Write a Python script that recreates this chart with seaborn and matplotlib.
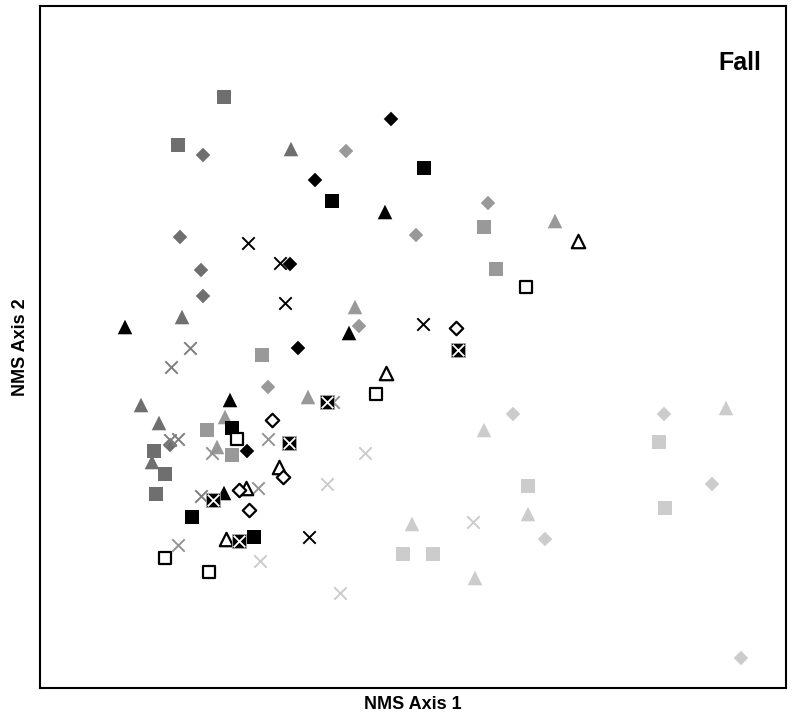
import matplotlib
matplotlib.use("Agg")
import matplotlib.pyplot as plt
import seaborn as sns
import pandas as pd

# NMS ordination scores (axis 1, axis 2) for each group of sites
black_diamond_x = [3.51, 2.75, 2.50, 2.58, 2.07]
black_diamond_y = [5.69, 5.08, 4.24, 3.40, 2.37]
black_square_x = [3.84, 2.92, 1.92, 1.52, 2.14]
black_square_y = [5.20, 4.87, 2.60, 1.71, 1.51]
black_triangle_x = [3.45, 0.85, 3.09, 1.90, 1.84]
black_triangle_y = [4.76, 3.61, 3.55, 2.88, 1.95]
black_cross_x = [2.08, 2.40, 2.45, 3.83, 2.69]
black_cross_y = [4.45, 4.25, 3.85, 3.64, 1.51]

open_triangle_x = [5.38, 3.46, 2.39, 2.06, 1.86]
open_triangle_y = [4.47, 3.15, 2.21, 2.00, 1.49]
open_square_x = [4.86, 3.36, 1.97, 1.25, 1.69]
open_square_y = [4.01, 2.94, 2.49, 1.30, 1.16]
open_diamond_x = [4.16, 2.32, 2.43, 1.99, 2.09]
open_diamond_y = [3.60, 2.68, 2.11, 1.98, 1.78]
boxed_cross_x = [4.18, 2.87, 2.49, 1.73, 1.99]
boxed_cross_y = [3.38, 2.86, 2.45, 1.88, 1.47]

dark_square_x = [1.84, 1.38, 1.14, 1.25, 1.16]
dark_square_y = [5.91, 5.43, 2.37, 2.14, 1.94]
dark_diamond_x = [1.63, 1.40, 1.61, 1.63, 1.30]
dark_diamond_y = [5.33, 4.51, 4.18, 3.92, 2.43]
dark_triangle_x = [2.51, 1.42, 1.01, 1.19, 1.12]
dark_triangle_y = [5.39, 3.71, 2.83, 2.65, 2.26]
dark_cross_x = [1.50, 1.31, 1.30, 1.38, 1.61]
dark_cross_y = [3.40, 3.21, 2.48, 2.49, 1.92]

mid_square_x = [2.22, 1.67, 1.92, 4.44, 4.56]
mid_square_y = [3.33, 2.58, 2.33, 4.61, 4.19]
mid_diamond_x = [3.06, 4.48, 3.76, 3.19, 2.28]
mid_diamond_y = [5.37, 4.85, 4.53, 3.62, 3.01]
mid_triangle_x = [3.15, 2.68, 1.85, 1.77, 5.15]
mid_triangle_y = [3.81, 2.91, 2.71, 2.41, 4.67]
mid_cross_x = [2.28, 1.72, 2.18, 2.93, 1.38]
mid_cross_y = [2.49, 2.35, 2.00, 2.86, 1.43]

light_diamond_x = [4.73, 5.05, 6.24, 6.72, 7.01]
light_diamond_y = [2.74, 1.49, 2.74, 2.04, 0.30]
light_square_x = [4.88, 3.63, 3.93, 6.19, 6.25]
light_square_y = [2.02, 1.34, 1.34, 2.46, 1.80]
light_triangle_x = [4.44, 4.88, 3.72, 4.35, 6.86]
light_triangle_y = [2.58, 1.74, 1.64, 1.10, 2.80]
light_cross_x = [3.25, 2.87, 2.20, 3.00, 4.33]
light_cross_y = [2.35, 2.04, 1.27, 0.95, 1.66]

season_label = "Fall"
x_label = "NMS Axis 1"
y_label = "NMS Axis 2"

sns.set_style("white")
plt.rcParams["font.family"] = ["Liberation Sans", "DejaVu Sans"]
plt.rcParams["text.color"] = "black"
plt.rcParams["axes.labelcolor"] = "black"

fig = plt.figure(figsize=(7.93, 7.17), dpi=100)
ax = fig.add_axes([40 / 793, 29 / 717, 746 / 793, 682 / 717])

BLACK = "#000000"
DARK = "#6f6f6f"
MID = "#999999"
LIGHT = "#cccccc"
X_DARK = "#7d7d7d"
X_MID = "#939393"

SIZES = {"s": 95, "D": 55, "^": 110, "x": 80}


def filled(xs, ys, marker, color):
    df = pd.DataFrame({"ax1": xs, "ax2": ys})
    sns.scatterplot(data=df, x="ax1", y="ax2", marker=marker, s=SIZES[marker],
                    color=color, edgecolor="none", linewidth=0, ax=ax, zorder=3)


def hollow(xs, ys, marker):
    df = pd.DataFrame({"ax1": xs, "ax2": ys})
    sns.scatterplot(data=df, x="ax1", y="ax2", marker=marker,
                    s=SIZES[marker] * 0.85, facecolor="white", edgecolor="black",
                    linewidth=1.6, ax=ax, zorder=3)


def cross(xs, ys, color):
    df = pd.DataFrame({"ax1": xs, "ax2": ys})
    sns.scatterplot(data=df, x="ax1", y="ax2", marker="x", s=SIZES["x"],
                    color=color, linewidth=1.4, ax=ax, zorder=3)


def boxed(xs, ys):
    df = pd.DataFrame({"ax1": xs, "ax2": ys})
    sns.scatterplot(data=df, x="ax1", y="ax2", marker="s", s=100,
                    color="black", edgecolor="#aaaaaa", linewidth=0.6, ax=ax, zorder=3)
    sns.scatterplot(data=df, x="ax1", y="ax2", marker="x", s=70,
                    color="white", linewidth=1.3, ax=ax, zorder=4)


# light gray group
filled(light_diamond_x, light_diamond_y, "D", LIGHT)
filled(light_square_x, light_square_y, "s", LIGHT)
filled(light_triangle_x, light_triangle_y, "^", LIGHT)
cross(light_cross_x, light_cross_y, LIGHT)

# medium gray group
filled(mid_square_x, mid_square_y, "s", MID)
filled(mid_diamond_x, mid_diamond_y, "D", MID)
filled(mid_triangle_x, mid_triangle_y, "^", MID)
cross(mid_cross_x, mid_cross_y, X_MID)

# dark gray group
filled(dark_square_x, dark_square_y, "s", DARK)
filled(dark_diamond_x, dark_diamond_y, "D", DARK)
filled(dark_triangle_x, dark_triangle_y, "^", DARK)
cross(dark_cross_x, dark_cross_y, X_DARK)

# black group
filled(black_diamond_x, black_diamond_y, "D", BLACK)
filled(black_square_x, black_square_y, "s", BLACK)
filled(black_triangle_x, black_triangle_y, "^", BLACK)
cross(black_cross_x, black_cross_y, BLACK)

# open group
hollow(open_triangle_x, open_triangle_y, "^")
hollow(open_square_x, open_square_y, "s")
hollow(open_diamond_x, open_diamond_y, "D")
boxed(boxed_cross_x, boxed_cross_y)

ax.set_xlim(0, 7.46)
ax.set_ylim(0, 6.82)
ax.set_xticks([])
ax.set_yticks([])
for side in ax.spines.values():
    side.set_color("black")
    side.set_linewidth(1.5)

ax.set_xlabel(x_label, fontsize=13, fontweight="bold", labelpad=6)
ax.set_ylabel(y_label, fontsize=13, fontweight="bold", labelpad=8)
ax.text(0.938, 0.917, season_label, transform=ax.transAxes, fontsize=18,
        fontweight="bold", ha="center", va="center")

fig.savefig("out.png", dpi=100)
